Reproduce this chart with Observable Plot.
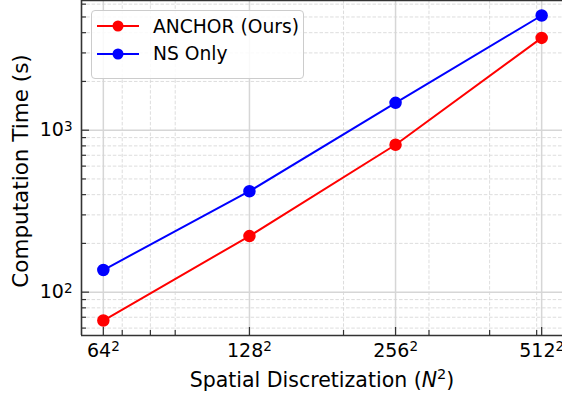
<!DOCTYPE html>
<html>
<head>
<meta charset="utf-8">
<script src="https://cdn.jsdelivr.net/npm/d3@7"></script>
<script src="https://cdn.jsdelivr.net/npm/@observablehq/plot@0.6"></script>
<style>
  html, body { margin: 0; padding: 0; background: #fff; overflow: hidden; }
  #wrap { position: relative; width: 562px; height: 396px; overflow: hidden; font-family: "DejaVu Sans", sans-serif; }
  #wrap > svg { max-width: none !important; }
  #legend { position: absolute; left: 91px; top: 10px; width: 211px; height: 67px;
    border: 1px solid #cccccc; border-radius: 4px; background: rgba(255,255,255,0.85); }
  .item { position: absolute; left: 5px; height: 24px; display: flex; align-items: center; font-size: 18.7px; color: #000; }
  .item svg { margin-right: 14px; }
</style>
</head>
<body>
<div id="wrap"></div>
<script>
// ---- data ----
const sizes = [64, 128, 256, 512];
const sizeLabels = ["64²", "128²", "256²", "512²"];
const anchorTimes = [66.8, 222, 813, 3715];
const nsTimes = [137, 420, 1476, 5106];
const yMajorTicks = [100, 1000];
const yMajorLabels = ["10²", "10³"];
const xMinorTicks = [70, 80, 90, 200, 300, 400, 500];
const yMinorTicks = [60, 70, 80, 90, 200, 300, 400, 500, 600, 700, 800, 900, 2000, 3000, 4000, 5000, 6000];
const seriesNames = ["ANCHOR (Ours)", "NS Only"];
const seriesColors = ["#ff0000", "#0000ff"];
const xDomain = [57.7, 567.9];
const yDomain = [54, 6320];

const rows = [];
sizes.forEach((n, i) => {
  rows.push({n, t: anchorTimes[i], s: seriesNames[0]});
  rows.push({n, t: nsTimes[i], s: seriesNames[1]});
});
const xLabel = new Map(sizes.map((d, i) => [d, sizeLabels[i]]));
const yLabel = new Map(yMajorTicks.map((d, i) => [d, yMajorLabels[i]]));

const W = 563, mL = 81, frameW = W - mL, frameH = 335;
const grid = {stroke: "#d9d9d9", strokeWidth: 0.9, strokeDasharray: "3.5,1.8"};
const major = {stroke: "#d6d6d6", strokeWidth: 1.5};
const tk = {stroke: "#333", strokeWidth: 1.2};
const spine = {stroke: "#333", strokeWidth: 1.6};

const chart = Plot.plot({
  width: W, height: 396,
  marginTop: 0, marginLeft: mL, marginBottom: 61, marginRight: 0,
  x: {type: "log", domain: xDomain},
  y: {type: "log", domain: yDomain},
  color: {domain: seriesNames, range: seriesColors},
  style: {fontFamily: "DejaVu Sans", fontSize: "19px", color: "#000", background: "transparent"},
  marks: [
    Plot.ruleX(xMinorTicks, grid),
    Plot.ruleY(yMinorTicks, grid),
    Plot.ruleX(sizes, major),
    Plot.ruleY(yMajorTicks, major),
    Plot.ruleX(sizes, {...tk, insetTop: frameH - 8}),
    Plot.ruleX(xMinorTicks, {...tk, insetTop: frameH - 5}),
    Plot.ruleY(yMajorTicks, {...tk, insetRight: frameW - 8}),
    Plot.ruleY(yMinorTicks, {...tk, insetRight: frameW - 5}),
    Plot.line(rows, {x: "n", y: "t", stroke: "s", z: "s", strokeWidth: 2}),
    Plot.dot(rows, {x: "n", y: "t", fill: "s", stroke: "s", r: 5.5}),
    Plot.ruleX([xDomain[0]], spine),
    Plot.ruleY([yDomain[0]], spine),
    Plot.ruleY([yDomain[1]], spine),
    Plot.axisX(sizes, {tickSize: 0, tickPadding: 8, tickFormat: d => xLabel.get(d), label: null, fontSize: 19}),
    Plot.axisY(yMajorTicks, {tickSize: 0, tickPadding: 9, tickFormat: d => yLabel.get(d), label: null, fontSize: 19})
  ]
});

const svg = d3.select(chart);
// turn trailing ²/³ in tick labels into raised superscript tspans
const supMap = {"²": "2", "³": "3"};
svg.selectAll("text").each(function() {
  const t = this.textContent;
  const last = t.slice(-1);
  if (supMap[last] && t.length > 1) {
    const el = d3.select(this);
    el.text(null);
    el.append("tspan").text(t.slice(0, -1));
    el.append("tspan").attr("font-size", "13.5px").attr("dy", "-0.42em").text(supMap[last]);
  }
});
// x axis label
const xl = svg.append("text")
  .attr("x", 322).attr("y", 387)
  .attr("text-anchor", "middle")
  .attr("font-size", 20.5).attr("fill", "#000");
xl.append("tspan").text("Spatial Discretization (");
xl.append("tspan").attr("font-style", "italic").text("N");
xl.append("tspan").attr("font-size", 14.5).attr("dy", -8).text("2");
xl.append("tspan").attr("dy", 8).text(")");
// y axis label
svg.append("text")
  .attr("transform", "translate(28,171) rotate(-90)")
  .attr("text-anchor", "middle")
  .attr("font-size", 21.5).attr("fill", "#000")
  .text("Computation Time (s)");

const wrap = document.getElementById("wrap");
wrap.appendChild(chart);

// legend
const legend = document.createElement("div");
legend.id = "legend";
seriesNames.forEach((name, i) => {
  const it = document.createElement("div");
  it.className = "item";
  it.style.top = (3 + i * 27.5) + "px";
  it.innerHTML = `<svg width="42" height="14"><line x1="0" y1="7" x2="42" y2="7" stroke="${seriesColors[i]}" stroke-width="2"/><circle cx="21" cy="7" r="5.5" fill="${seriesColors[i]}"/></svg><span>${name}</span>`;
  legend.appendChild(it);
});
wrap.appendChild(legend);
</script>
</body>
</html>
